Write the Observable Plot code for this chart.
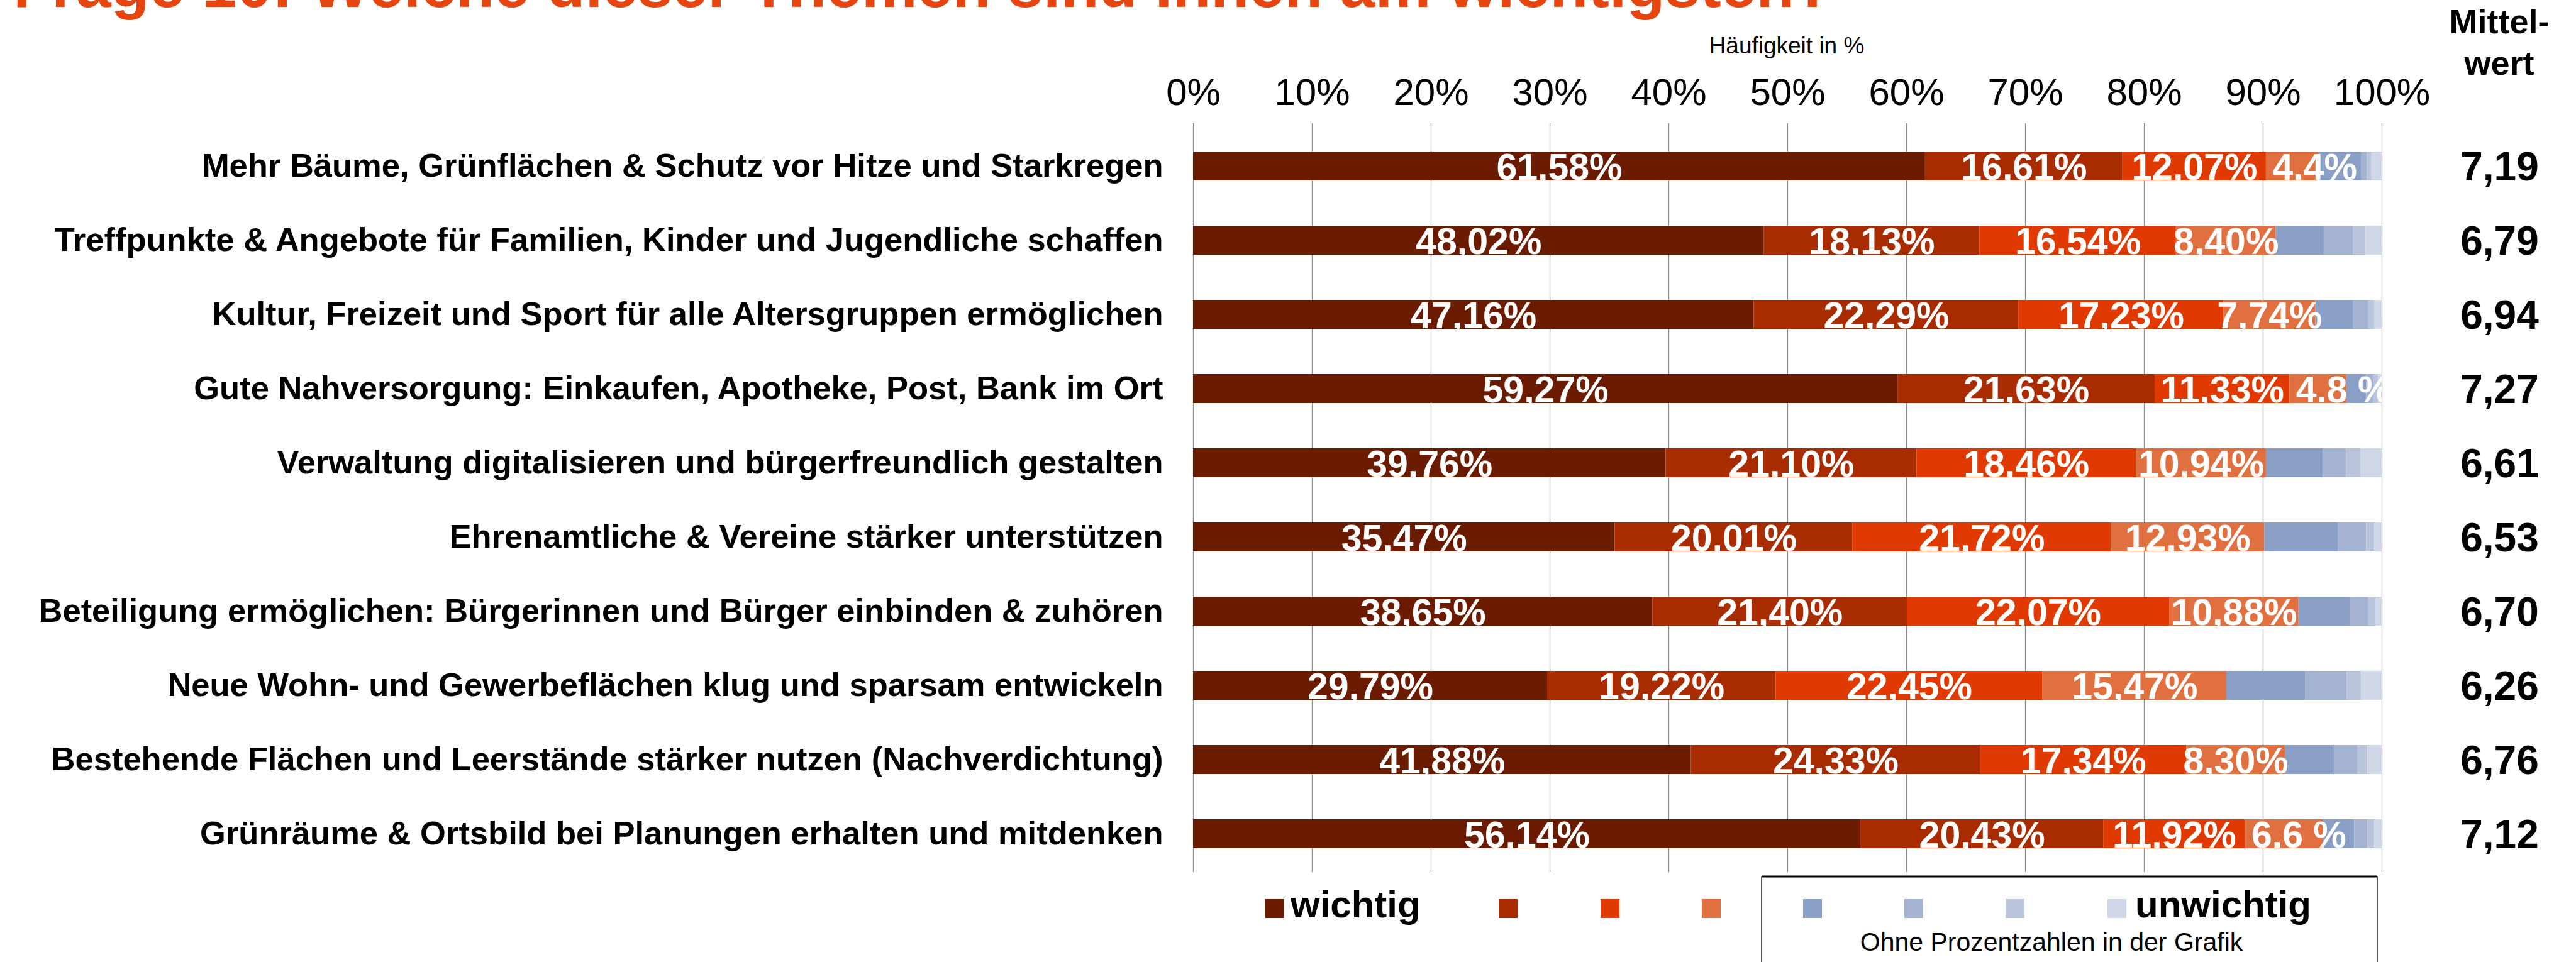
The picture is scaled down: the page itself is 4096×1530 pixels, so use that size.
<!DOCTYPE html>
<html><head><meta charset="utf-8">
<script src="https://cdn.jsdelivr.net/npm/d3@7"></script>
<script src="https://cdn.jsdelivr.net/npm/@observablehq/plot@0.6"></script>
<style>
html,body{margin:0;padding:0;background:#fff;}
#wrap{position:relative;width:4096px;height:1530px;overflow:hidden;font-family:"Liberation Sans",Arial,sans-serif;}
#wrap > svg{position:absolute;left:0;top:0;}
</style></head><body><div id="wrap"></div>
<script>
const topics = [
  "Mehr Bäume, Grünflächen & Schutz vor Hitze und Starkregen",
  "Treffpunkte & Angebote für Familien, Kinder und Jugendliche schaffen",
  "Kultur, Freizeit und Sport für alle Altersgruppen ermöglichen",
  "Gute Nahversorgung: Einkaufen, Apotheke, Post, Bank im Ort",
  "Verwaltung digitalisieren und bürgerfreundlich gestalten",
  "Ehrenamtliche & Vereine stärker unterstützen",
  "Beteiligung ermöglichen: Bürgerinnen und Bürger einbinden & zuhören",
  "Neue Wohn- und Gewerbeflächen klug und sparsam entwickeln",
  "Bestehende Flächen und Leerstände stärker nutzen (Nachverdichtung)",
  "Grünräume & Ortsbild bei Planungen erhalten und mitdenken"
];
const means = [7.19, 6.79, 6.94, 7.27, 6.61, 6.53, 6.70, 6.26, 6.76, 7.12];
const levelNames = ["1","2","3","4","5","6","7","8"];
const level1 = [61.58, 48.02, 47.16, 59.27, 39.76, 35.47, 38.65, 29.79, 41.88, 56.14];
const level2 = [16.61, 18.13, 22.29, 21.63, 21.10, 20.01, 21.40, 19.22, 24.33, 20.43];
const level3 = [12.07, 16.54, 17.23, 11.33, 18.46, 21.72, 22.07, 22.45, 17.34, 11.92];
const level4 = [4.4, 8.40, 7.74, 4.8, 10.94, 12.93, 10.88, 15.47, 8.30, 6.6];
const level5 = [3.63, 4.04, 3.18, 1.67, 4.79, 6.20, 4.30, 6.62, 4.15, 2.60];
const level6 = [0.45, 2.47, 1.28, 0.60, 1.95, 2.37, 1.58, 3.50, 1.98, 1.10];
const level7 = [0.36, 0.98, 0.52, 0.40, 1.20, 0.67, 0.60, 1.23, 0.82, 0.60];
const level8 = [0.90, 1.42, 0.60, 0.30, 1.80, 0.63, 0.52, 1.72, 1.20, 0.61];
const level4Labels = ["4.4%", "8,40%", "7,74%", "4.8 %", "10,94%", "12,93%", "10,88%", "15,47%", "8,30%", "6.6 %"];
const colors = ["#6B1C00", "#A92B00", "#E03A00", "#E0703F", "#8A9FC5", "#A4B3D1", "#BAC5DC", "#D0D8E7"];
const xTicks = [0, 10, 20, 30, 40, 50, 60, 70, 80, 90, 100];
const legendLeft = "wichtig", legendRight = "unwichtig";
const titleText = "Frage 10: Welche dieser Themen sind Ihnen am wichtigsten?";
const axisTitle = "Häufigkeit in %";
const meanHeader = ["Mittel-", "wert"];
const boxNote = "Ohne Prozentzahlen in der Grafik";

const levels = [level1, level2, level3, level4, level5, level6, level7, level8];
const fmt2 = v => d3.format(".2f")(v).replace(".", ",");
const data = [];
topics.forEach((t, i) => levels.forEach((arr, k) => {
  const label = k < 3 ? fmt2(arr[i]) + "%" : k === 3 ? level4Labels[i] : "";
  data.push({topic: t, level: levelNames[k], value: arr[i], label, small: k === 3 && arr[i] < 7});
}));

const FONT = '"Liberation Sans", Arial, sans-serif';
const chart = Plot.plot({
  width: 4096, height: 1530,
  marginLeft: 1897, marginRight: 309, marginTop: 196, marginBottom: 143,
  insetTop: 8,
  style: {fontFamily: FONT, background: "transparent", color: "#000", overflow: "visible"},
  x: {domain: [0, 100], axis: null},
  y: {domain: topics, axis: null, paddingInner: 0.607, paddingOuter: 0.3035},
  color: {domain: levelNames, range: colors},
  marks: [
    Plot.gridX(xTicks, {stroke: "#8c8c8c", strokeOpacity: 1, strokeWidth: 1.3}),
    Plot.axisX({anchor: "top", ticks: xTicks, tickFormat: d => d + "%", tickSize: 0, tickPadding: 30, fontSize: 60, label: null}),
    Plot.barX(data, Plot.stackX({x: "value", y: "topic", fill: "level"})),
    Plot.text(data, Plot.stackX({x: "value", y: "topic", text: d => d.small ? "" : d.label,
      fill: "white", fontSize: 59, fontWeight: "bold", dy: 3})),
    Plot.text(data, Plot.stackX1({x: "value", y: "topic", text: d => d.small ? d.label : "",
      fill: "white", fontSize: 59, fontWeight: "bold", dy: 3, textAnchor: "start", dx: 10, clip: true})),
    Plot.text(topics, {y: d => d, text: d => d, frameAnchor: "left", textAnchor: "end", dx: -48,
      fontSize: 52.5, fontWeight: "bold", fill: "#000"}),
    Plot.text(topics, {y: d => d, text: (d, i) => fmt2(means[i]), frameAnchor: "right", textAnchor: "middle", dx: 187,
      fontSize: 64, fontWeight: "bold", fill: "#000", dy: 2})
  ]
});
document.getElementById("wrap").appendChild(chart);

// overlay: title, axis title, mean header, legend
const ov = d3.select("#wrap").append("svg").attr("width", 4096).attr("height", 1530)
  .style("font-family", FONT);
ov.append("text").attr("x", 21).attr("y", 11).attr("font-size", 100).attr("font-weight", "bold")
  .attr("fill", "#E6450F").text(titleText);
ov.append("text").attr("x", 2841).attr("y", 85).attr("font-size", 37).attr("text-anchor", "middle").text(axisTitle);
meanHeader.forEach((t, i) => ov.append("text").attr("x", 3974).attr("y", 53 + i * 66)
  .attr("font-size", 54).attr("font-weight", "bold").attr("text-anchor", "middle").text(t));

// legend box
ov.append("line").attr("x1", 2801).attr("x2", 3780).attr("y1", 1394).attr("y2", 1394).attr("stroke", "#000").attr("stroke-width", 3);
ov.append("line").attr("x1", 2801).attr("x2", 2801).attr("y1", 1394).attr("y2", 1540).attr("stroke", "#000").attr("stroke-width", 1.3);
ov.append("line").attr("x1", 3780).attr("x2", 3780).attr("y1", 1394).attr("y2", 1540).attr("stroke", "#000").attr("stroke-width", 1.3);
const legendX = [2012, 2383, 2545, 2706, 2867, 3028, 3189, 3351];
colors.forEach((c, i) => ov.append("rect").attr("x", legendX[i]).attr("y", 1430).attr("width", 30).attr("height", 30).attr("fill", c));
ov.append("text").attr("x", 2052).attr("y", 1459).attr("font-size", 60).attr("font-weight", "bold").text(legendLeft);
ov.append("text").attr("x", 3395).attr("y", 1459).attr("font-size", 60).attr("font-weight", "bold").text(legendRight);
ov.append("text").attr("x", 3262).attr("y", 1512).attr("font-size", 41).attr("text-anchor", "middle").text(boxNote);
</script></body></html>
